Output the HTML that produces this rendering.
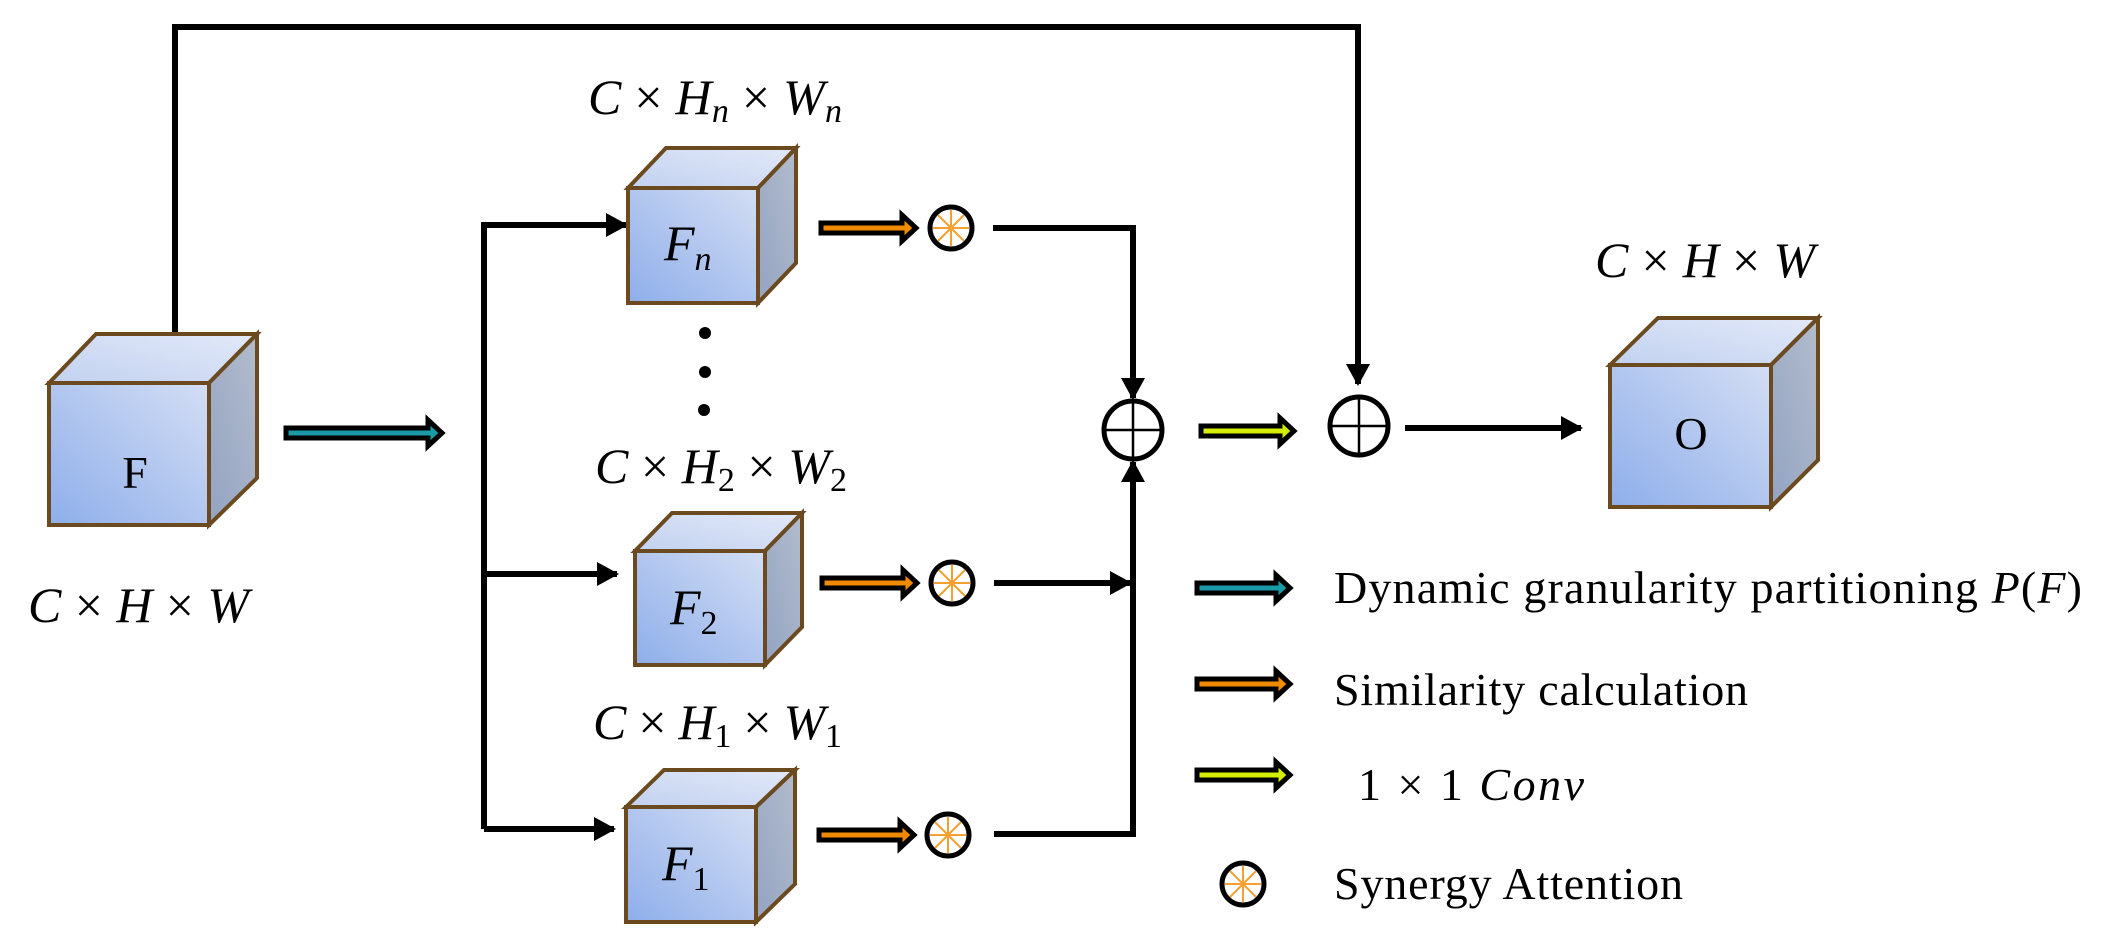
<!DOCTYPE html>
<html><head><meta charset="utf-8"><style>
html,body{margin:0;padding:0;background:#fff;}
svg{display:block;}
.m{font-family:"Liberation Serif",serif;font-style:italic;font-size:50px;fill:#000;}
.t{font-family:"Liberation Serif",serif;font-size:46px;fill:#000;}
</style></head><body>
<svg width="2111" height="949" viewBox="0 0 2111 949" xmlns="http://www.w3.org/2000/svg">
<defs>
<linearGradient id="gf" x1="0" y1="1" x2="1" y2="0"><stop offset="0" stop-color="#8eaeea"/><stop offset="1" stop-color="#d4def4"/></linearGradient>
<linearGradient id="gt" x1="0" y1="1" x2="1" y2="0"><stop offset="0" stop-color="#c2d1f0"/><stop offset="1" stop-color="#e2e9f8"/></linearGradient>
<linearGradient id="gr" x1="0" y1="1" x2="1" y2="0"><stop offset="0" stop-color="#93a3c2"/><stop offset="1" stop-color="#b2bccc"/></linearGradient>
<marker id="ah" markerWidth="22" markerHeight="24" refX="20" refY="12" orient="auto" markerUnits="userSpaceOnUse"><path d="M0,0 L22,12 L0,24 z" fill="#000"/></marker>
<g id="sa"><circle cx="0" cy="0" r="21" fill="#fff" stroke="#000" stroke-width="5"/>
<g stroke="#f5a030" stroke-width="2"><line x1="-18" y1="0" x2="18" y2="0"/><line x1="0" y1="-18" x2="0" y2="18"/><line x1="-13" y1="-13" x2="13" y2="13"/><line x1="-13" y1="13" x2="13" y2="-13"/></g></g>
<g id="plus"><circle cx="0" cy="0" r="29" fill="#fff" stroke="#000" stroke-width="5"/><line x1="-29" y1="0" x2="29" y2="0" stroke="#000" stroke-width="2.5"/><line x1="0" y1="-29" x2="0" y2="29" stroke="#000" stroke-width="2.5"/></g>
</defs>

<g fill="none" stroke="#000" stroke-width="6">
<polyline points="175,334 175,27 1358,27 1358,384" marker-end="url(#ah)"/>
<polyline points="484,829 484,225 626,225" marker-end="url(#ah)"/>
<line x1="484" y1="574" x2="617" y2="574" marker-end="url(#ah)"/>
<line x1="484" y1="829" x2="614" y2="829" marker-end="url(#ah)"/>
<polyline points="993,228 1133,228 1133,398" marker-end="url(#ah)"/>
<polyline points="994,834 1133,834 1133,462" marker-end="url(#ah)"/>
<line x1="994" y1="583" x2="1130" y2="583" marker-end="url(#ah)"/>
<line x1="1405" y1="428" x2="1581" y2="428" marker-end="url(#ah)"/>
</g>

<g stroke="#6b4a1f" stroke-width="4" stroke-linejoin="miter">
<g>
<polygon points="49,383 96,334 257,334 209,383" fill="url(#gt)"/>
<polygon points="209,383 257,334 257,478 209,525" fill="url(#gr)"/>
<rect x="49" y="383" width="160" height="142" fill="url(#gf)"/>
</g>
<g>
<polygon points="628,188 666,148 796,148 758,188" fill="url(#gt)"/>
<polygon points="758,188 796,148 796,263 758,303" fill="url(#gr)"/>
<rect x="628" y="188" width="130" height="115" fill="url(#gf)"/>
</g>
<g>
<polygon points="635,551 672,513 802,513 765,551" fill="url(#gt)"/>
<polygon points="765,551 802,513 802,627 765,665" fill="url(#gr)"/>
<rect x="635" y="551" width="130" height="114" fill="url(#gf)"/>
</g>
<g>
<polygon points="626,807 664,770 795,770 756,807" fill="url(#gt)"/>
<polygon points="756,807 795,770 795,884 756,922" fill="url(#gr)"/>
<rect x="626" y="807" width="130" height="115" fill="url(#gf)"/>
</g>
<g>
<polygon points="1610,365 1658,318 1818,318 1771,365" fill="url(#gt)"/>
<polygon points="1771,365 1818,318 1818,460 1771,507" fill="url(#gr)"/>
<rect x="1610" y="365" width="161" height="142" fill="url(#gf)"/>
</g>
</g>

<circle cx="705" cy="333" r="6"/><circle cx="705" cy="372" r="6"/><circle cx="704" cy="410" r="6"/>

<g stroke="#000" stroke-width="5" stroke-linejoin="miter">
<polygon points="286,428 428,428 428,420 442,433 428,446 428,438 286,438" fill="#1a9aa6"/>
<polygon points="821,223 902,223 902,215 916,228 902,241 902,233 821,233" fill="#f08a00"/>
<polygon points="822,578 903,578 903,570 917,583 903,596 903,588 822,588" fill="#f08a00"/>
<polygon points="819,830 900,830 900,822 914,835 900,848 900,840 819,840" fill="#f08a00"/>
<polygon points="1201,426 1280,426 1280,418 1294,431 1280,444 1280,436 1201,436" fill="#d4ec00"/>
<polygon points="1197,583 1276,583 1276,575 1290,588 1276,601 1276,593 1197,593" fill="#1a9aa6"/>
<polygon points="1197,679 1276,679 1276,671 1290,684 1276,697 1276,689 1197,689" fill="#f08a00"/>
<polygon points="1197,770 1276,770 1276,762 1290,775 1276,788 1276,780 1197,780" fill="#d4ec00"/>
</g>

<use href="#sa" x="951" y="228"/>
<use href="#sa" x="952" y="583"/>
<use href="#sa" x="948" y="835"/>
<use href="#sa" x="1243" y="884"/>
<use href="#plus" x="1133" y="430"/>
<use href="#plus" x="1359" y="426"/>

<text class="t" x="135" y="488" text-anchor="middle" font-size="54">F</text>
<text class="t" x="1691" y="449" text-anchor="middle" font-size="54">O</text>
<text class="m" x="664" y="260" font-size="52">F<tspan font-size="34" dy="10">n</tspan></text>
<text class="m" x="670" y="624" font-size="52">F<tspan font-size="34" dy="10" font-style="normal">2</tspan></text>
<text class="m" x="662" y="880" font-size="52">F<tspan font-size="34" dy="10" font-style="normal">1</tspan></text>

<text class="m" x="28" y="622" textLength="221">C <tspan font-style="normal">×</tspan> H <tspan font-style="normal">×</tspan> W</text>
<text class="m" x="1595" y="277" textLength="220">C <tspan font-style="normal">×</tspan> H <tspan font-style="normal">×</tspan> W</text>
<text class="m" x="588" y="114" textLength="254">C <tspan font-style="normal">×</tspan> H<tspan font-size="34" dy="8">n</tspan><tspan dy="-8"> </tspan><tspan font-style="normal">×</tspan> W<tspan font-size="34" dy="8">n</tspan></text>
<text class="m" x="595" y="483" textLength="252">C <tspan font-style="normal">×</tspan> H<tspan font-size="34" dy="8" font-style="normal">2</tspan><tspan dy="-8"> </tspan><tspan font-style="normal">×</tspan> W<tspan font-size="34" dy="8" font-style="normal">2</tspan></text>
<text class="m" x="593" y="739" textLength="249">C <tspan font-style="normal">×</tspan> H<tspan font-size="34" dy="8" font-style="normal">1</tspan><tspan dy="-8"> </tspan><tspan font-style="normal">×</tspan> W<tspan font-size="34" dy="8" font-style="normal">1</tspan></text>

<text class="t" x="1334" y="603" textLength="748">Dynamic granularity partitioning <tspan font-style="italic">P</tspan>(<tspan font-style="italic">F</tspan>)</text>
<text class="t" x="1334" y="705" textLength="414">Similarity calculation</text>
<text class="t" x="1358" y="800" textLength="226">1 × 1 <tspan font-style="italic">Conv</tspan></text>
<text class="t" x="1334" y="899" textLength="349">Synergy Attention</text>
</svg>
</body></html>
